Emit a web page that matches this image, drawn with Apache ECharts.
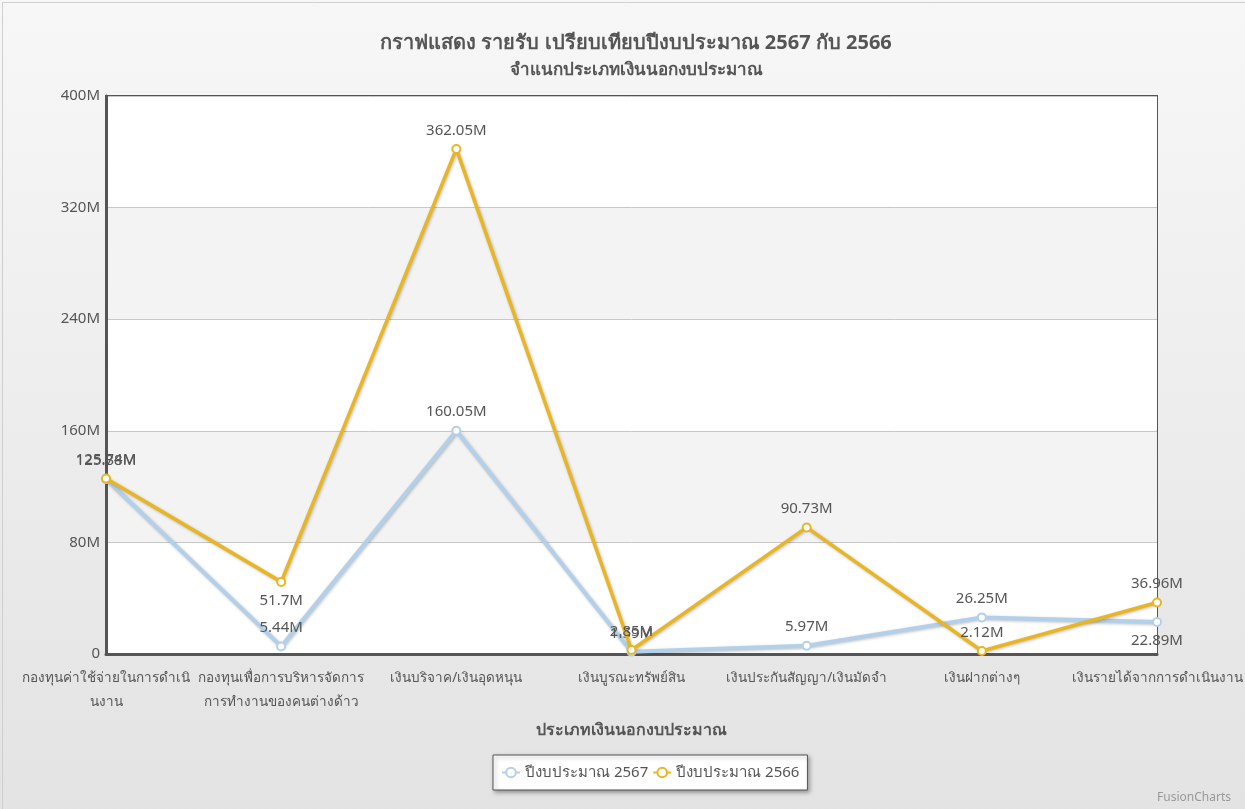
<!DOCTYPE html>
<html>
<head>
<meta charset="utf-8">
<script src="https://cdn.jsdelivr.net/npm/echarts@6/dist/echarts.min.js"></script>
<style>
  html, body { margin: 0; padding: 0; }
  #chart { width: 1245px; height: 809px; }
</style>
</head>
<body>
<div id="chart"></div>
<script>
  // ประเภทเงินนอกงบประมาณ
  const categories = [
    'กองทุนค่าใช้จ่ายในการดำเนินงาน',
    'กองทุนเพื่อการบริหารจัดการการทำงานของคนต่างด้าว',
    'เงินบริจาค/เงินอุดหนุน',
    'เงินบูรณะทรัพย์สิน',
    'เงินประกันสัญญา/เงินมัดจำ',
    'เงินฝากต่างๆ',
    'เงินรายได้จากการดำเนินงาน'
  ];
  // หน่วย: ล้านบาท (M)
  const values2567 = [125.38, 5.44, 160.05, 1.59, 5.97, 26.25, 22.89];
  const values2566 = [125.74, 51.7, 362.05, 2.85, 90.73, 2.12, 36.96];
  const yTicks = [0, 80, 160, 240, 320, 400];

  // ป้ายค่าที่วางไว้ใต้จุด
  const below2567 = [6];
  const below2566 = [1];

  const FONT = 'Tahoma, "Noto Sans", "DejaVu Sans", sans-serif';
  const LABEL_SIZE = 13.5;
  const chart = echarts.init(document.getElementById('chart'));

  // ตัดบรรทัดป้ายแกน X เอง (สระ/วรรณยุกต์ติดกับตัวหน้า)
  const ctx = document.createElement('canvas').getContext('2d');
  ctx.font = LABEL_SIZE + 'px ' + FONT;
  function wrapLabel (text, maxW) {
    const units = [];
    for (const ch of text) {
      const c = ch.charCodeAt(0);
      const mark = c === 0x0E31 || (c >= 0x0E34 && c <= 0x0E3A) || (c >= 0x0E47 && c <= 0x0E4E);
      if (mark && units.length) units[units.length - 1] += ch;
      else units.push(ch);
    }
    const lines = [];
    let cur = '';
    units.forEach(u => {
      if (cur && ctx.measureText(cur + u).width > maxW) {
        lines.push(cur);
        cur = u;
      } else {
        cur += u;
      }
    });
    if (cur) lines.push(cur);
    return lines.join('\n');
  }

  function toData (arr, below) {
    return arr.map((v, i) => below.indexOf(i) >= 0
      ? { value: v, label: { position: 'bottom', distance: 6 } }
      : v);
  }

  const option = {
    backgroundColor: new echarts.graphic.LinearGradient(0, 0, 0, 1, [
      { offset: 0, color: '#f7f7f7' },
      { offset: 1, color: '#e3e3e3' }
    ]),
    textStyle: { fontFamily: FONT },
    title: {
      text: 'กราฟแสดง รายรับ เปรียบเทียบปีงบประมาณ 2567 กับ 2566',
      subtext: 'จำแนกประเภทเงินนอกงบประมาณ',
      left: 631,
      textAlign: 'center',
      top: 28,
      itemGap: 9,
      textStyle: { fontSize: 20, fontWeight: 'bold', color: '#555', fontFamily: FONT },
      subtextStyle: { fontSize: 17, fontWeight: 'bold', color: '#555', fontFamily: FONT }
    },
    legend: {
      bottom: 19,
      left: 493,
      padding: [10, 8, 10, 8],
      backgroundColor: '#fff',
      borderColor: '#555',
      borderWidth: 1,
      shadowColor: 'rgba(0,0,0,0.35)',
      shadowBlur: 4,
      shadowOffsetX: 2,
      shadowOffsetY: 2,
      itemWidth: 18,
      itemHeight: 12,
      itemGap: 4,
      textStyle: { fontSize: 15, color: '#555', fontFamily: FONT },
      data: ['ปีงบประมาณ 2567', 'ปีงบประมาณ 2566']
    },
    grid: {
      left: 106,
      right: 88,
      top: 96,
      bottom: 155,
      outerBoundsMode: 'none',
      show: true,
      borderColor: '#555',
      borderWidth: 2
    },
    xAxis: {
      type: 'category',
      data: categories,
      boundaryGap: false,
      name: 'ประเภทเงินนอกงบประมาณ',
      nameLocation: 'middle',
      nameGap: 68,
      nameMoveOverlap: false,
      nameTextStyle: { fontSize: 16, fontWeight: 'bold', color: '#555', fontFamily: FONT },
      axisLine: { lineStyle: { color: '#555', width: 3 } },
      axisTick: { show: false },
      axisLabel: {
        color: '#555',
        fontSize: LABEL_SIZE,
        margin: 12,
        lineHeight: 24,
        interval: 0,
        hideOverlap: false,
        fontFamily: FONT,
        formatter: v => wrapLabel(v, 172)
      },
      splitLine: { show: false }
    },
    yAxis: {
      type: 'value',
      min: 0,
      max: 400,
      interval: 80,
      axisLine: { show: true, lineStyle: { color: '#555', width: 3 } },
      axisTick: { show: false },
      axisLabel: {
        color: '#555',
        fontSize: 15,
        margin: 6,
        fontFamily: FONT,
        formatter: v => yTicks.indexOf(v) >= 0 ? (v === 0 ? '0' : v + 'M') : ''
      },
      splitLine: { lineStyle: { color: '#c8c8c8', width: 1 } },
      splitArea: { show: true, areaStyle: { color: ['#ffffff', '#f3f3f3'] } }
    },
    series: [
      {
        name: 'ปีงบประมาณ 2567',
        type: 'line',
        data: toData(values2567, below2567),
        symbol: 'circle',
        symbolSize: 8,
        itemStyle: { color: '#ffffff', borderColor: '#b3d0ea', borderWidth: 2 },
        lineStyle: {
          color: '#b3d0ea', width: 4,
          shadowColor: 'rgba(0,0,0,0.25)', shadowBlur: 3, shadowOffsetX: 1, shadowOffsetY: 1
        },
        label: {
          show: true,
          position: 'top',
          distance: 6,
          color: '#555',
          fontSize: 15,
          fontFamily: FONT,
          formatter: p => p.value + 'M'
        },
        z: 2
      },
      {
        name: 'ปีงบประมาณ 2566',
        type: 'line',
        data: toData(values2566, below2566),
        symbol: 'circle',
        symbolSize: 8,
        itemStyle: { color: '#ffffff', borderColor: '#e8b623', borderWidth: 2 },
        lineStyle: {
          color: '#e8b623', width: 3.5,
          shadowColor: 'rgba(0,0,0,0.25)', shadowBlur: 3, shadowOffsetX: 1, shadowOffsetY: 1
        },
        label: {
          show: true,
          position: 'top',
          distance: 6,
          color: '#555',
          fontSize: 15,
          fontFamily: FONT,
          formatter: p => p.value + 'M'
        },
        z: 3
      }
    ],
    graphic: [
      {
        type: 'text',
        right: 14,
        bottom: 5,
        style: { text: 'FusionCharts', fontSize: 12, fill: '#999', fontFamily: FONT }
      },
      {
        type: 'rect',
        left: 0, top: 0,
        shape: { width: 1244, height: 808 },
        style: { fill: 'none', stroke: '#cfcfcf', lineWidth: 1 },
        silent: true
      }
    ]
  };
  chart.setOption(option);
</script>
</body>
</html>
